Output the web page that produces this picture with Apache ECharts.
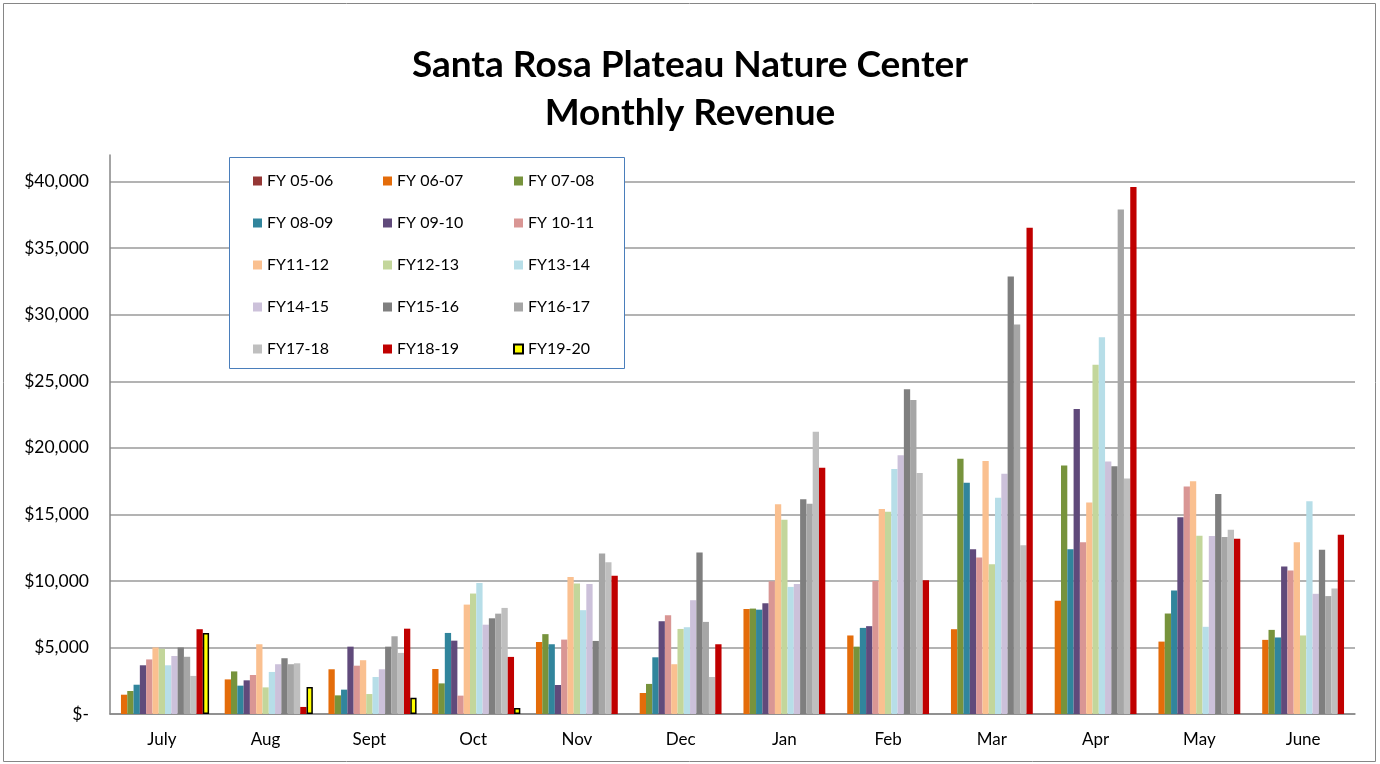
<!DOCTYPE html>
<html>
<head>
<meta charset="utf-8">
<script src="https://cdn.jsdelivr.net/npm/echarts@6/dist/echarts.min.js"></script>
<style>
  html, body { margin: 0; padding: 0; background: #fff; }
  #main { width: 1380px; height: 764px; }
</style>
</head>
<body>
<div id="main"></div>
<script>
let chart = echarts.init(document.getElementById("main"));

var months = ['July', 'Aug', 'Sept', 'Oct', 'Nov', 'Dec', 'Jan', 'Feb', 'Mar', 'Apr', 'May', 'June']

var fy0506 = [null, null, null, null, null, null, null, null, null, null, null, null]
var fy0607 = [1450, 2600, 3360, 3380, 5410, 1580, 7890, 5900, 6370, 8510, 5440, 5570]
var fy0708 = [1730, 3200, 1400, 2300, 6000, 2260, 7920, 5060, 19170, 18670, 7550, 6320]
var fy0809 = [2200, 2130, 1830, 6090, 5240, 4260, 7840, 6470, 17370, 12380, 9280, 5750]
var fy0910 = [3660, 2530, 5060, 5510, 2180, 6970, 8320, 6600, 12380, 22920, 14780, 11090]
var fy1011 = [4100, 2930, 3630, 1380, 5590, 7420, 9970, 10000, 11750, 12900, 17090, 10790]
var fy1112 = [5000, 5240, 4040, 8220, 10300, 3740, 15760, 15400, 19000, 15890, 17490, 12900]
var fy1213 = [4900, 2000, 1500, 9050, 9800, 6390, 14590, 15200, 11250, 26250, 13400, 5900]
var fy1314 = [3660, 3160, 2780, 9850, 7800, 6520, 9550, 18400, 16240, 28300, 6550, 15980]
var fy1415 = [4360, 3740, 3360, 6710, 9770, 8550, 9770, 19450, 18050, 18980, 13370, 9030]
var fy1516 = [5000, 4190, 5060, 7190, 5490, 12130, 16140, 24400, 32880, 18610, 16530, 12340]
var fy1617 = [4300, 3740, 5840, 7540, 12060, 6920, 15790, 23600, 29270, 37900, 13300, 8860]
var fy1718 = [2860, 3810, 4590, 7970, 11400, 2780, 21200, 18100, 12680, 17700, 13850, 9430]
var fy1819 = [6370, 530, 6410, 4290, 10380, 5240, 18500, 10050, 36540, 39600, 13170, 13470]
var fy1920 = [6090, 2030, 1230, 450, null, null, null, null, null, null, null, null]

var names = ['FY 05-06', 'FY 06-07', 'FY 07-08', 'FY 08-09', 'FY 09-10', 'FY 10-11', 'FY11-12',
    'FY12-13', 'FY13-14', 'FY14-15', 'FY15-16', 'FY16-17', 'FY17-18', 'FY18-19', 'FY19-20']
var values = [fy0506, fy0607, fy0708, fy0809, fy0910, fy1011, fy1112, fy1213, fy1314,
    fy1415, fy1516, fy1617, fy1718, fy1819, fy1920]
var colors = ['#953735', '#E46C0A', '#77933C', '#31859C', '#604A7B', '#D99694', '#FAC090',
    '#C3D69B', '#B7DEE8', '#CCC1DA', '#7F7F7F', '#A6A6A6', '#BFBFBF', '#C00000', '#FFFF00']

var font = 'Lato'

var series = []
for (var i = 0; i < names.length; i++) {
    var s = {
        name: names[i],
        type: 'bar',
        data: values[i],
        barGap: '0%',
        barCategoryGap: '9%',
        itemStyle: { color: colors[i] }
    }
    if (i == names.length - 1) {
        s.itemStyle.borderColor = '#000'
        s.itemStyle.borderWidth = 1.5
    }
    series.push(s)
}

// legend laid out as 3 columns of 5
function legendCol(left, list) {
    return {
        orient: 'vertical',
        left: left,
        top: 171,
        padding: 0,
        itemWidth: 9,
        itemHeight: 9,
        itemGap: 22,
        icon: 'rect',
        data: list,
        textStyle: { fontFamily: font, fontSize: 16, color: '#000', lineHeight: 20 }
    }
}

let option = {
    animation: false,
    title: {
        text: 'Santa Rosa Plateau Nature Center\nMonthly Revenue',
        left: 'center',
        top: 36,
        textStyle: { fontFamily: font, fontWeight: 'bold', fontSize: 37, lineHeight: 48, color: '#000' }
    },
    legend: [
        legendCol(253, [names[0], names[3], names[6], names[9], names[12]]),
        legendCol(383, [names[1], names[4], names[7], names[10], names[13]]),
        legendCol(513, [names[2], names[5], names[8], names[11], names[14]])
    ],
    graphic: [
        {
            type: 'rect', z: 0,
            shape: { x: 3.5, y: 3.5, width: 1372, height: 758 },
            style: { fill: 'none', stroke: '#868686', lineWidth: 1 }
        },
        {
            type: 'rect', z: 3,
            shape: { x: 229.5, y: 157.5, width: 395, height: 211 },
            style: { fill: '#fff', stroke: '#4A7EBB', lineWidth: 1 }
        }
    ],
    grid: { left: 110, right: 25, top: 155, bottom: 50 },
    xAxis: {
        type: 'category',
        data: months,
        axisLine: { lineStyle: { color: '#868686', width: 1.5 } },
        axisTick: { show: false },
        axisLabel: { fontFamily: font, fontSize: 17, color: '#000', margin: 17 }
    },
    yAxis: {
        type: 'value',
        min: 0,
        max: 42000,
        interval: 5000,
        axisLine: { show: true, lineStyle: { color: '#868686', width: 1.5 } },
        axisTick: { show: false },
        splitLine: { showMaxLine: false, lineStyle: { color: '#9A9A9A', width: 1.5 } },
        axisLabel: {
            fontFamily: font, fontSize: 17.5, color: '#000', margin: 21,
            showMaxLabel: false,
            formatter: function (v) {
                if (v == 0) return '$-'
                return '$' + v.toLocaleString('en-US')
            }
        }
    },
    series: series
}

chart.setOption(option)
</script>
</body>
</html>
